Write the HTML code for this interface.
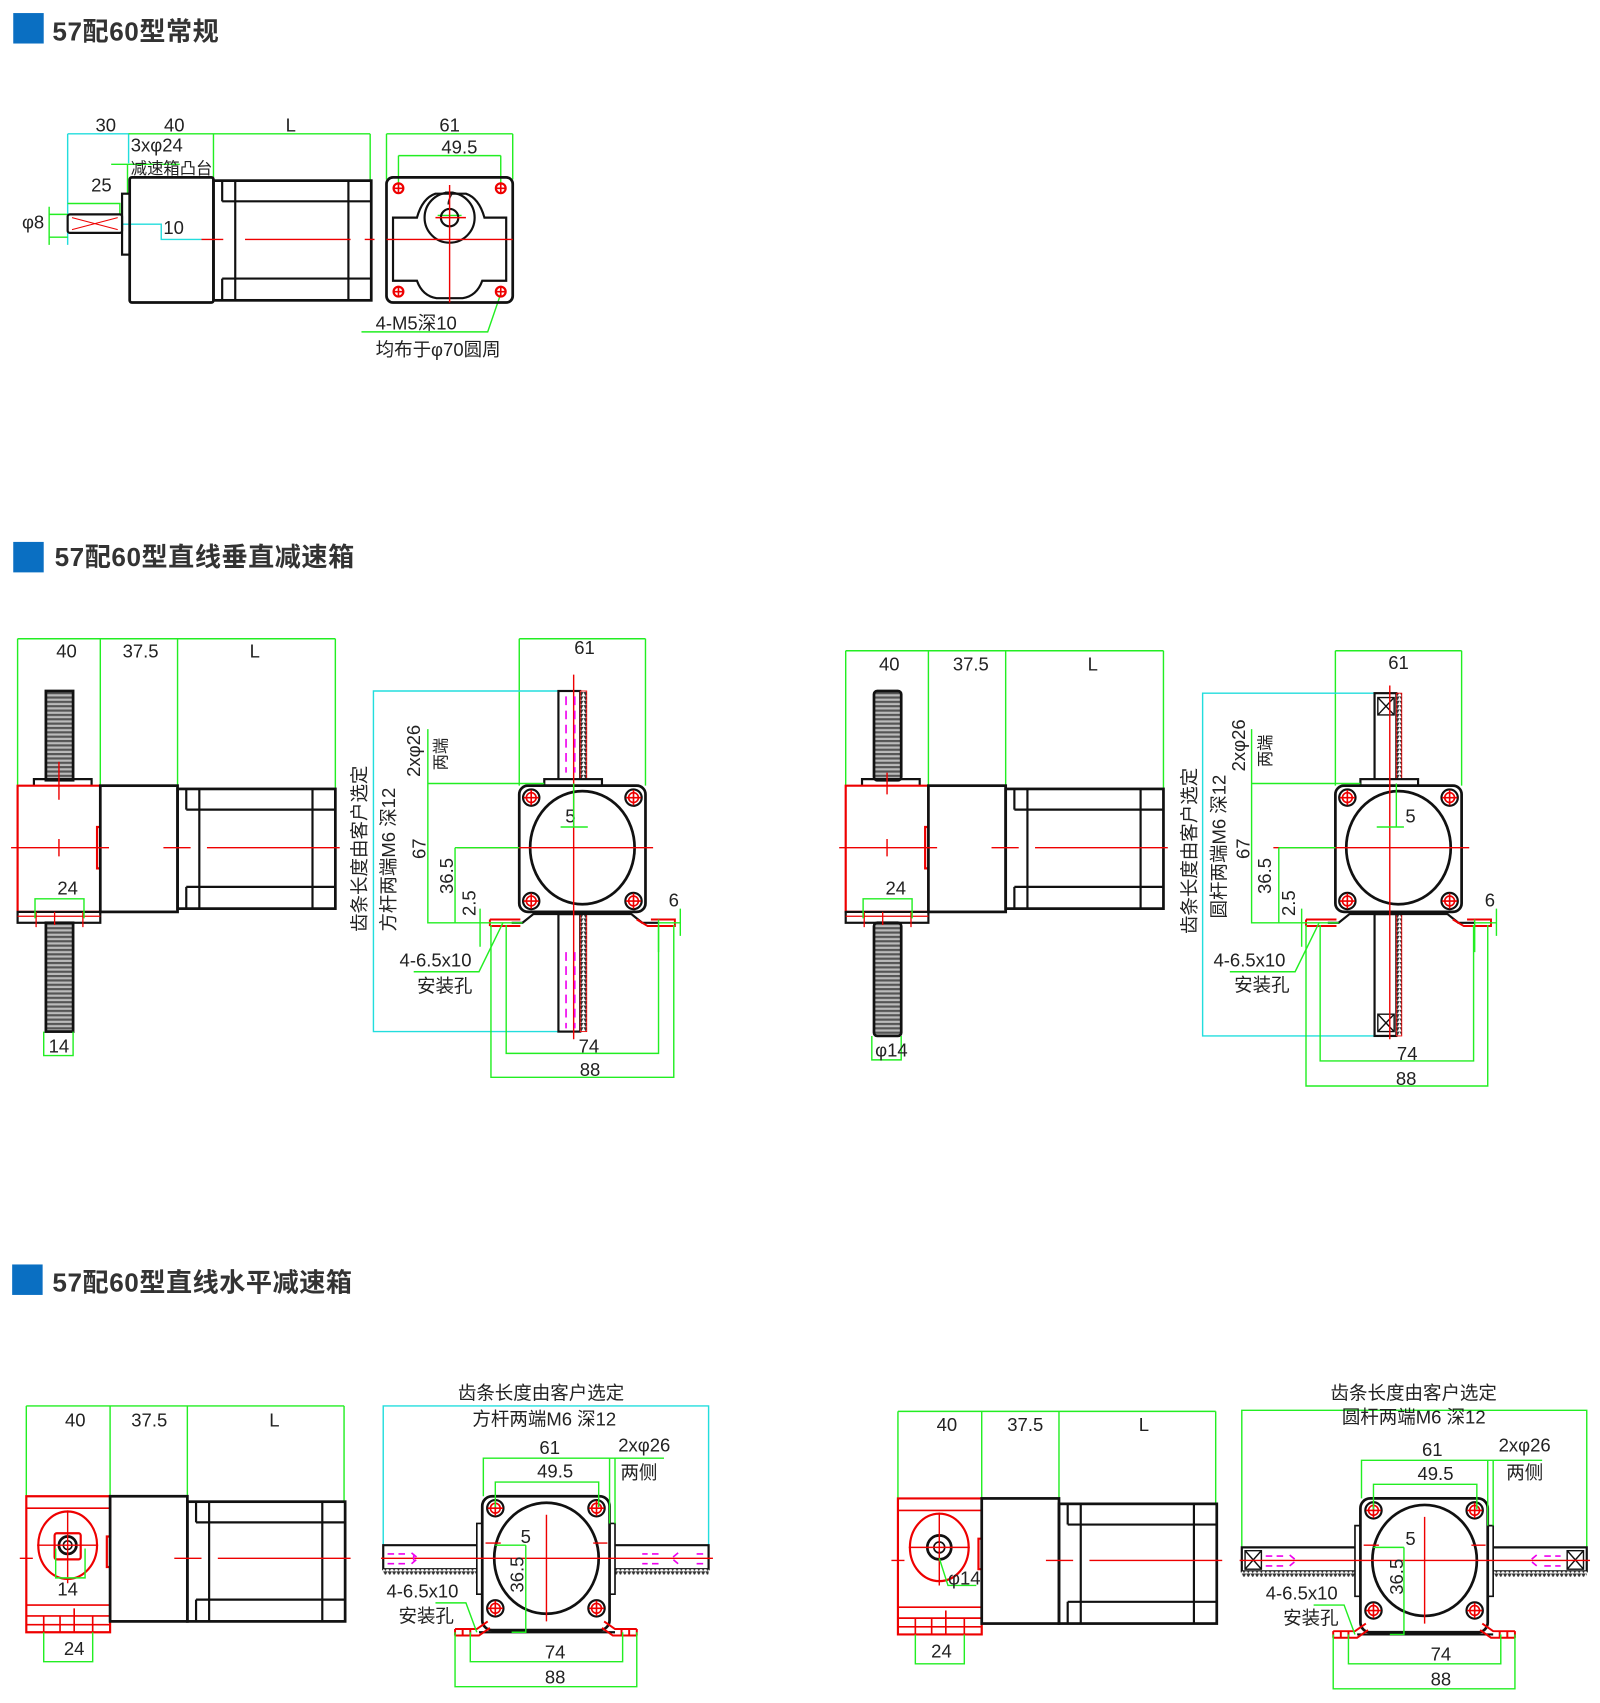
<!DOCTYPE html>
<html><head><meta charset="utf-8"><style>
html,body{margin:0;padding:0;background:#fff}
svg{display:block}
text{font-family:"Liberation Sans","Noto Sans CJK SC",sans-serif;fill:#222}
.h{font-size:24px;font-weight:bold;fill:#333;letter-spacing:0.5px}
.d{font-size:17px}
.s{font-size:15px}
</style></head><body>
<svg width="1600" height="1703" viewBox="0 0 1470 1565" xmlns="http://www.w3.org/2000/svg">
<defs>
<pattern id="thr" width="6" height="4" patternUnits="userSpaceOnUse"><rect width="6" height="4" fill="#bbb"/><rect y="0" width="6" height="2" fill="#555"/></pattern>
<pattern id="rt" width="4" height="4" patternUnits="userSpaceOnUse"><rect width="4" height="4" fill="#fff"/><path d="M0 0 L2 4 L4 0" fill="#333"/></pattern>
<pattern id="rth" width="4" height="4" patternUnits="userSpaceOnUse"><rect width="4" height="4" fill="#fff"/><path d="M0 0 L2 4 L4 0" fill="#333"/></pattern>
<g id="motor" fill="none" stroke="#111" stroke-width="2.5">
<rect x="0" y="0" width="145" height="110"/>
<path d="M8 0V19M8 90V110M20 0V110M124 0V110M8 19H145M8 90H145" stroke-width="2"/>
</g>
<g id="hole"><circle r="7.5" fill="none" stroke="#111" stroke-width="2"/><circle r="4.5" fill="none" stroke="#e00" stroke-width="1.5"/><path d="M-7 0H7M0 -7V7" stroke="#e00" stroke-width="1.5"/></g>
<g id="rhole"><circle r="4.5" fill="none" stroke="#e00" stroke-width="2"/><path d="M-4 0H4M0 -4V4" stroke="#e00" stroke-width="1.5"/></g>
</defs>

<!-- ========== Section 1 ========== -->
<rect x="12" y="12" width="28" height="28" fill="#0a6fc2"/>
<text x="48" y="37" class="h">57配60型常规</text>

<g fill="none" stroke-width="1.3">
<path d="M62 123H118V150M62 123V225" stroke="#2dd"/>
<path d="M118 123H340M196 123V163M340 123V165M355 123H471M355 123V165M471 123V165M366 143H460M366 143V170M460 143V170" stroke="#2e2"/>
<path d="M102 151H165M117 151V178M62 187H110V198M45 197H62M45 218H62M45 190V225" stroke="#2e2"/>
<path d="M112 206H148V220H185" stroke="#2dd"/>
<path d="M460 270L448 305H332" stroke="#2e2"/>
<path d="M402 198H424" stroke="#2e2"/>
</g>
<text x="97" y="121" class="d" text-anchor="middle">30</text>
<text x="160" y="121" class="d" text-anchor="middle">40</text>
<text x="267" y="121" class="d" text-anchor="middle">L</text>
<text x="413" y="121" class="d" text-anchor="middle">61</text>
<text x="422" y="141" class="d" text-anchor="middle">49.5</text>
<text x="120" y="139" class="d">3xφ24</text>
<text x="120" y="160" class="s">减速箱凸台</text>
<text x="93" y="176" class="d" text-anchor="middle">25</text>
<text x="20" y="210" class="d">φ8</text>
<text x="150" y="215" class="d">10</text>
<text x="408" y="188" class="d">7</text>
<text x="345" y="303" class="d">4-M5深10</text>
<text x="345" y="327" class="d">均布于φ70圆周</text>
<rect x="62" y="197" width="50" height="17" fill="none" stroke="#111" stroke-width="2" rx="2"/>
<path d="M66 200L108 211M66 211L108 200" stroke="#e00" stroke-width="1" fill="none"/>
<rect x="112" y="178" width="7" height="56" fill="none" stroke="#111" stroke-width="2"/>
<rect x="119" y="163" width="77" height="115" fill="none" stroke="#111" stroke-width="2.5" rx="2"/>
<use href="#motor" transform="translate(196 166)"/>
<path d="M185 220H205M225 220H322M335 220H344" stroke="#e00" stroke-width="1.3"/>
<rect x="355" y="163" width="116" height="115" rx="6" fill="none" stroke="#111" stroke-width="2.5"/>
<path d="M361 200H383Q388 182 400 178H428Q440 182 445 200H465V258H443Q438 272 425 274H401Q388 272 383 258H361Z" fill="none" stroke="#111" stroke-width="2"/>
<circle cx="413" cy="200" r="23" fill="none" stroke="#111" stroke-width="2"/>
<circle cx="413" cy="200" r="8" fill="none" stroke="#111" stroke-width="2"/>
<path d="M355 220H471M413 170V278M400 200H428" stroke="#e00" stroke-width="1.3"/>
<use href="#rhole" x="366" y="173"/><use href="#rhole" x="460" y="173"/>
<use href="#rhole" x="366" y="268"/><use href="#rhole" x="460" y="268"/>

<!-- ========== Section 2 ========== -->
<rect x="12" y="498" width="28" height="28" fill="#0a6fc2"/>
<text x="50" y="520" class="h">57配60型直线垂直减速箱</text>

<path d="M16 587H308M16 587V722M92 587V722M163 587V723M308 587V725" fill="none" stroke="#2e2" stroke-width="1.3"/>
<text x="61" y="604" class="d" text-anchor="middle">40</text>
<text x="129" y="604" class="d" text-anchor="middle">37.5</text>
<text x="234" y="604" class="d" text-anchor="middle">L</text>
<g id="s2body">
<rect x="42" y="635" width="25" height="82" fill="url(#thr)" stroke="#111" stroke-width="2.5"/>
<rect x="42" y="848" width="25" height="100" fill="url(#thr)" stroke="#111" stroke-width="2.5"/>
<path d="M31 722V716H84V722" fill="none" stroke="#111" stroke-width="2"/>
<path d="M16 722H92V760H89V798H92V838H16Z" fill="none" stroke="#e00" stroke-width="2"/>
<rect x="16" y="838" width="76" height="10" fill="none" stroke="#111" stroke-width="2"/>
<path d="M16 842H92M33 838V852M50 838V850M76 838V852" stroke="#e00" stroke-width="1.2"/>
<rect x="92" y="722" width="71" height="116" fill="none" stroke="#111" stroke-width="2.5"/>
<use href="#motor" transform="translate(163 725)"/>
<path d="M10 779H100M150 779H175M190 779H312M54 771V787M54 700V735" stroke="#e00" stroke-width="1.3"/>
<path d="M32 844V826H77V844" fill="none" stroke="#2e2" stroke-width="1.3"/>
<text x="62" y="822" class="d" text-anchor="middle">24</text>
</g>
<path d="M40 948V970H67V948" fill="none" stroke="#2e2" stroke-width="1.3"/>
<text x="54" y="967" class="d" text-anchor="middle">14</text>

<g>
<path d="M477 587H593M477 587V722M593 587V722" fill="none" stroke="#2e2" stroke-width="1.3"/>
<text x="537" y="601" class="d" text-anchor="middle">61</text>
<path d="M513 635H343V948H513" fill="none" stroke="#2dd" stroke-width="1.3"/>
<rect x="513" y="635" width="20" height="83" fill="#fff" stroke="#111" stroke-width="2"/>
<rect x="513" y="840" width="20" height="108" fill="#fff" stroke="#111" stroke-width="2"/>
<rect x="533" y="635" width="6" height="83" fill="url(#rt)" stroke="#e00" stroke-width="0.8"/>
<rect x="533" y="840" width="6" height="108" fill="url(#rt)" stroke="#e00" stroke-width="0.8"/>
<rect x="500" y="716" width="53" height="6" fill="#fff" stroke="#111" stroke-width="2"/>
<rect x="477" y="722" width="116" height="116" rx="8" fill="#fff" stroke="#111" stroke-width="2.5"/>
<ellipse cx="535" cy="779" rx="48" ry="52" fill="none" stroke="#111" stroke-width="2.5"/>
<path d="M470 848H480L490 840H580L590 848H605" fill="none" stroke="#111" stroke-width="2"/>
<path d="M450 845H478M450 851H478M450 845V851M585 845L595 851H620V845H598" fill="none" stroke="#e00" stroke-width="1.8"/>
<use href="#hole" x="488" y="733"/><use href="#hole" x="582" y="733"/>
<use href="#hole" x="488" y="828"/><use href="#hole" x="582" y="828"/>
<path d="M527 620V955M420 779H600" stroke="#e00" stroke-width="1.3"/>
<text x="524" y="756" class="d" text-anchor="middle">5</text>
<path d="M393 670V848H480M393 720H500M418 779H477M418 779V848M441 835V870M605 845V875M625 835V860M605 848H625M515 760H540M527 720V760" fill="none" stroke="#2e2" stroke-width="1.3"/>
<text transform="translate(336 780) rotate(-90)" class="d" text-anchor="middle">齿条长度由客户选定</text>
<text transform="translate(363 790) rotate(-90)" class="d" text-anchor="middle">方杆两端M6 深12</text>
<text transform="translate(386 690) rotate(-90)" class="d" text-anchor="middle">2xφ26</text>
<text transform="translate(410 693) rotate(-90)" class="s" text-anchor="middle">两端</text>
<text transform="translate(391 780) rotate(-90)" class="d" text-anchor="middle">67</text>
<text transform="translate(416 805) rotate(-90)" class="d" text-anchor="middle">36.5</text>
<text transform="translate(437 830) rotate(-90)" class="d" text-anchor="middle">2.5</text>
<text x="619" y="833" class="d" text-anchor="middle">6</text>
<path d="M380 893H440L462 848" fill="none" stroke="#2e2" stroke-width="1.3"/>
<text x="367" y="888" class="d">4-6.5x10</text>
<text x="383" y="912" class="d">安装孔</text>
<path d="M465 850V968H605V850M451 850V990H619V850" fill="none" stroke="#2e2" stroke-width="1.3"/>
<text x="541" y="967" class="d" text-anchor="middle">74</text>
<text x="542" y="989" class="d" text-anchor="middle">88</text>
</g>
<path d="M520 640V710M528 640V710M520 875V945M528 875V945" stroke="#e0e" stroke-width="1.5" stroke-dasharray="8,5"/>

<!-- section 2 right copy (round rod) -->
<g transform="translate(761 0)">
<path d="M16 598H308M16 598V722M92 598V722M163 598V723M308 598V725" fill="none" stroke="#2e2" stroke-width="1.3"/>
<text x="56" y="616" class="d" text-anchor="middle">40</text>
<text x="131" y="616" class="d" text-anchor="middle">37.5</text>
<text x="243" y="616" class="d" text-anchor="middle">L</text>
<rect x="42" y="635" width="25" height="82" fill="url(#thr)" stroke="#111" stroke-width="2.5" rx="3"/>
<rect x="42" y="848" width="25" height="104" fill="url(#thr)" stroke="#111" stroke-width="2.5" rx="3"/>
<path d="M31 722V716H84V722" fill="none" stroke="#111" stroke-width="2"/>
<path d="M16 722H92V760H89V798H92V838H16Z" fill="none" stroke="#e00" stroke-width="2"/>
<rect x="16" y="838" width="76" height="10" fill="none" stroke="#111" stroke-width="2"/>
<path d="M16 842H92M33 838V852M50 838V850M76 838V852" stroke="#e00" stroke-width="1.2"/>
<rect x="92" y="722" width="71" height="116" fill="none" stroke="#111" stroke-width="2.5"/>
<use href="#motor" transform="translate(163 725)"/>
<path d="M10 779H100M150 779H175M190 779H312M54 771V787M54 710V730" stroke="#e00" stroke-width="1.3"/>
<path d="M32 844V826H77V844" fill="none" stroke="#2e2" stroke-width="1.3"/>
<text x="62" y="822" class="d" text-anchor="middle">24</text>
<path d="M40 952V974H67V952" fill="none" stroke="#2e2" stroke-width="1.3"/>
<text x="58" y="971" class="d" text-anchor="middle">φ14</text>
</g>
<g transform="translate(750 0)">
<path d="M477 598H593M477 598V722M593 598V722" fill="none" stroke="#2e2" stroke-width="1.3"/>
<text x="535" y="615" class="d" text-anchor="middle">61</text>
<path d="M513 637H355V952H513" fill="none" stroke="#2dd" stroke-width="1.3"/>
<rect x="513" y="637" width="20" height="81" fill="#fff" stroke="#111" stroke-width="2"/>
<rect x="513" y="840" width="20" height="112" fill="#fff" stroke="#111" stroke-width="2"/>
<rect x="533" y="637" width="5" height="81" fill="url(#rt)" stroke="#e00" stroke-width="0.8"/>
<rect x="533" y="840" width="5" height="112" fill="url(#rt)" stroke="#e00" stroke-width="0.8"/>
<path d="M516 641H531V657H516ZM516 641L531 657M531 641L516 657M516 932H531V948H516ZM516 932L531 948M531 932L516 948" fill="none" stroke="#111" stroke-width="1.3"/>
<rect x="500" y="716" width="53" height="6" fill="#fff" stroke="#111" stroke-width="2"/>
<rect x="477" y="722" width="116" height="116" rx="8" fill="#fff" stroke="#111" stroke-width="2.5"/>
<ellipse cx="535" cy="779" rx="48" ry="52" fill="none" stroke="#111" stroke-width="2.5"/>
<path d="M470 848H480L490 840H580L590 848H605" fill="none" stroke="#111" stroke-width="2"/>
<path d="M450 845H478M450 851H478M450 845V851M585 845L595 851H620V845H598" fill="none" stroke="#e00" stroke-width="1.8"/>
<use href="#hole" x="488" y="733"/><use href="#hole" x="582" y="733"/>
<use href="#hole" x="488" y="828"/><use href="#hole" x="582" y="828"/>
<path d="M527 630V955M420 779H600" stroke="#e00" stroke-width="1.3"/>
<text x="546" y="756" class="d" text-anchor="middle">5</text>
<path d="M400 670V848H480M400 720H500M425 779H477M425 779V848M446 835V870M605 845V875M625 835V860M605 848H625M515 760H540M533 720V760" fill="none" stroke="#2e2" stroke-width="1.3"/>
<text transform="translate(349 782) rotate(-90)" class="d" text-anchor="middle">齿条长度由客户选定</text>
<text transform="translate(376 778) rotate(-90)" class="d" text-anchor="middle">圆杆两端M6 深12</text>
<text transform="translate(394 685) rotate(-90)" class="d" text-anchor="middle">2xφ26</text>
<text transform="translate(418 690) rotate(-90)" class="s" text-anchor="middle">两端</text>
<text transform="translate(398 780) rotate(-90)" class="d" text-anchor="middle">67</text>
<text transform="translate(418 805) rotate(-90)" class="d" text-anchor="middle">36.5</text>
<text transform="translate(440 830) rotate(-90)" class="d" text-anchor="middle">2.5</text>
<text x="619" y="833" class="d" text-anchor="middle">6</text>
<path d="M380 893H440L462 848" fill="none" stroke="#2e2" stroke-width="1.3"/>
<text x="365" y="888" class="d">4-6.5x10</text>
<text x="384" y="911" class="d">安装孔</text>
<path d="M463 850V975H604V850M450 850V998H617V850" fill="none" stroke="#2e2" stroke-width="1.3"/>
<text x="543" y="974" class="d" text-anchor="middle">74</text>
<text x="542" y="997" class="d" text-anchor="middle">88</text>
</g>

<!-- ========== Section 3 ========== -->
<rect x="11" y="1162" width="28" height="28" fill="#0a6fc2"/>
<text x="48" y="1187" class="h">57配60型直线水平减速箱</text>

<g>
<path d="M24 1292H316M24 1292V1375M101 1292V1375M172 1292V1375M316 1292V1380" fill="none" stroke="#2e2" stroke-width="1.3"/>
<text x="69" y="1311" class="d" text-anchor="middle">40</text>
<text x="137" y="1311" class="d" text-anchor="middle">37.5</text>
<text x="252" y="1311" class="d" text-anchor="middle">L</text>
<path d="M24 1375H101V1412H98V1440H101V1500H24Z" fill="none" stroke="#e00" stroke-width="2"/>
<path d="M24 1386H101M24 1475H101M24 1485H101M24 1493H101M40 1485V1500M55 1485V1500M68 1478V1500M85 1485V1500" stroke="#e00" stroke-width="1.5"/>
<rect x="101" y="1375" width="71" height="115" fill="none" stroke="#111" stroke-width="2.5"/>
<use href="#motor" transform="translate(172 1380)"/>
<path d="M18 1432H30M160 1432H185M200 1432H322" stroke="#e00" stroke-width="1.3"/>
</g>
<ellipse cx="62" cy="1420" rx="27" ry="31" fill="none" stroke="#e00" stroke-width="2"/>
<rect x="50" y="1409" width="24" height="24" fill="none" stroke="#e00" stroke-width="2" rx="2"/>
<circle cx="62" cy="1420" r="8" fill="none" stroke="#111" stroke-width="2.5"/>
<circle cx="62" cy="1420" r="4" fill="none" stroke="#111" stroke-width="1.5"/>
<path d="M34 1420H90M62 1388V1455" stroke="#e00" stroke-width="1.3"/>
<path d="M51 1423V1450H78V1423M40 1500V1527H85V1500" fill="none" stroke="#2e2" stroke-width="1.3"/>
<text x="62" y="1466" class="d" text-anchor="middle">14</text>
<text x="68" y="1521" class="d" text-anchor="middle">24</text>

<g>
<path d="M352 1430V1292H651V1430" fill="none" stroke="#2dd" stroke-width="1.3"/>
<text x="497" y="1286" class="d" text-anchor="middle">齿条长度由客户选定</text>
<path d="M352 1420H443V1442H352ZM560 1420H651V1442H560Z" fill="#fff" stroke="#111" stroke-width="2"/>
<rect x="352" y="1442" width="91" height="5" fill="url(#rth)"/>
<rect x="560" y="1442" width="91" height="5" fill="url(#rth)"/>
<path d="M438 1400H443V1465H438ZM560 1400H565V1465H560Z" fill="#fff" stroke="#111" stroke-width="1.5"/>
<rect x="443" y="1375" width="117" height="123" rx="9" fill="#fff" stroke="#111" stroke-width="2.5"/>
<ellipse cx="502" cy="1432" rx="48" ry="51" fill="none" stroke="#111" stroke-width="2.5"/>
<use href="#hole" x="455" y="1386"/><use href="#hole" x="548" y="1386"/>
<use href="#hole" x="455" y="1478"/><use href="#hole" x="548" y="1478"/>
<path d="M440 1500H565" stroke="#111" stroke-width="2"/>
<path d="M418 1497H438L448 1490M418 1503H440L450 1496M418 1497V1503M585 1497H565L555 1490M585 1503H563L553 1496M585 1497V1503M425 1497V1503M432 1497V1503M571 1497V1503M578 1497V1503" fill="none" stroke="#e00" stroke-width="1.8"/>
<path d="M350 1432H655M502 1392V1490M446 1418H460M545 1418H558" stroke="#e00" stroke-width="1.3"/>
<path d="M444 1375V1340H560V1400M455 1385V1362H550V1385M560 1340H610M565 1340V1400M483 1420V1500H470M455 1420H483" fill="none" stroke="#2e2" stroke-width="1.3"/>
<text x="505" y="1336" class="d" text-anchor="middle">61</text>
<text x="510" y="1358" class="d" text-anchor="middle">49.5</text>
<text x="568" y="1334" class="d">2xφ26</text>
<text x="570" y="1359" class="d">两侧</text>
<text x="483" y="1418" class="d" text-anchor="middle">5</text>
<text transform="translate(481 1447) rotate(-90)" class="d" text-anchor="middle">36.5</text>
<path d="M400 1473H428L438 1500" fill="none" stroke="#2e2" stroke-width="1.3"/>
<text x="355" y="1468" class="d">4-6.5x10</text>
<text x="366" y="1491" class="d">安装孔</text>
<path d="M432 1500V1527H572V1500M418 1500V1550H585V1500" fill="none" stroke="#2e2" stroke-width="1.3"/>
<text x="510" y="1524" class="d" text-anchor="middle">74</text>
<text x="510" y="1547" class="d" text-anchor="middle">88</text>
</g>
<text x="500" y="1310" class="d" text-anchor="middle">方杆两端M6 深12</text>
<path d="M356 1428H372M356 1437H372M380 1428V1437M605 1428H590M605 1437H590M640 1428H650M640 1437H650M378 1427L384 1432L378 1437M623 1427L617 1432L623 1437" fill="none" stroke="#e0e" stroke-width="1.5" stroke-dasharray="6,4"/>

<!-- section 3 right copy -->
<g transform="translate(801 2)">
<path d="M24 1295H316M24 1295V1375M101 1295V1375M172 1295V1375M316 1295V1380" fill="none" stroke="#2e2" stroke-width="1.3"/>
<text x="69" y="1313" class="d" text-anchor="middle">40</text>
<text x="141" y="1313" class="d" text-anchor="middle">37.5</text>
<text x="250" y="1313" class="d" text-anchor="middle">L</text>
<path d="M24 1375H101V1412H98V1440H101V1500H24Z" fill="none" stroke="#e00" stroke-width="2"/>
<path d="M24 1386H101M24 1475H101M24 1485H101M24 1493H101M40 1485V1500M55 1485V1500M68 1478V1500M85 1485V1500" stroke="#e00" stroke-width="1.5"/>
<rect x="101" y="1375" width="71" height="115" fill="none" stroke="#111" stroke-width="2.5"/>
<use href="#motor" transform="translate(172 1380)"/>
<path d="M18 1432H30M160 1432H185M200 1432H322" stroke="#e00" stroke-width="1.3"/>
<ellipse cx="62" cy="1420" rx="27" ry="31" fill="none" stroke="#e00" stroke-width="2"/>
<circle cx="62" cy="1420" r="11" fill="none" stroke="#111" stroke-width="2.5"/>
<circle cx="62" cy="1420" r="5" fill="none" stroke="#111" stroke-width="1.5"/>
<path d="M34 1420H90M62 1388V1455" stroke="#e00" stroke-width="1.3"/>
<path d="M62 1430L70 1455H96M40 1500V1527H85V1500" fill="none" stroke="#2e2" stroke-width="1.3"/>
<text x="70" y="1454" class="d">φ14</text>
<text x="64" y="1521" class="d" text-anchor="middle">24</text>
</g>
<g transform="translate(789 2)">
<path d="M352 1430V1294H669V1430" fill="none" stroke="#2e2" stroke-width="1.3"/>
<text x="510" y="1284" class="d" text-anchor="middle">齿条长度由客户选定</text>
<text x="510" y="1306" class="d" text-anchor="middle">圆杆两端M6 深12</text>
<path d="M352 1420H461V1442H352ZM578 1420H669V1442H578Z" fill="#fff" stroke="#111" stroke-width="2"/>
<rect x="352" y="1442" width="109" height="5" fill="url(#rth)"/>
<rect x="578" y="1442" width="91" height="5" fill="url(#rth)"/>
<path d="M355 1423H370V1440H355ZM355 1423L370 1440M370 1423L355 1440M651 1423H666V1440H651ZM651 1423L666 1440M666 1423L651 1440" fill="none" stroke="#111" stroke-width="1.3"/>
<path d="M456 1400H461V1465H456ZM578 1400H583V1465H578Z" fill="#fff" stroke="#111" stroke-width="1.5"/>
<rect x="461" y="1375" width="117" height="123" rx="9" fill="#fff" stroke="#111" stroke-width="2.5"/>
<ellipse cx="520" cy="1432" rx="48" ry="51" fill="none" stroke="#111" stroke-width="2.5"/>
<use href="#hole" x="473" y="1386"/><use href="#hole" x="566" y="1386"/>
<use href="#hole" x="473" y="1478"/><use href="#hole" x="566" y="1478"/>
<path d="M458 1500H583" stroke="#111" stroke-width="2"/>
<path d="M436 1497H456L466 1490M436 1503H458L468 1496M436 1497V1503M603 1497H583L573 1490M603 1503H581L571 1496M603 1497V1503M443 1497V1503M450 1497V1503M589 1497V1503M596 1497V1503" fill="none" stroke="#e00" stroke-width="1.8"/>
<path d="M350 1432H672M520 1392V1490M464 1418H478M563 1418H576" stroke="#e00" stroke-width="1.3"/>
<path d="M462 1375V1340H578V1400M473 1385V1362H568V1385M578 1340H628M583 1340V1400M501 1420V1500H488M473 1420H501" fill="none" stroke="#2e2" stroke-width="1.3"/>
<text x="527" y="1336" class="d" text-anchor="middle">61</text>
<text x="530" y="1358" class="d" text-anchor="middle">49.5</text>
<text x="588" y="1332" class="d">2xφ26</text>
<text x="595" y="1357" class="d">两侧</text>
<text x="507" y="1418" class="d" text-anchor="middle">5</text>
<text transform="translate(500 1447) rotate(-90)" class="d" text-anchor="middle">36.5</text>
<path d="M418 1473H446L456 1500" fill="none" stroke="#2e2" stroke-width="1.3"/>
<text x="374" y="1468" class="d">4-6.5x10</text>
<text x="390" y="1491" class="d">安装孔</text>
<path d="M450 1500V1527H590V1500M436 1500V1550H603V1500" fill="none" stroke="#2e2" stroke-width="1.3"/>
<text x="535" y="1524" class="d" text-anchor="middle">74</text>
<text x="535" y="1547" class="d" text-anchor="middle">88</text>
<path d="M374 1428H390M374 1437H390M396 1427L402 1432L396 1437M630 1428H645M630 1437H645M623 1427L617 1432L623 1437" fill="none" stroke="#e0e" stroke-width="1.5" stroke-dasharray="6,4"/>
</g>
</svg>
</body></html>
